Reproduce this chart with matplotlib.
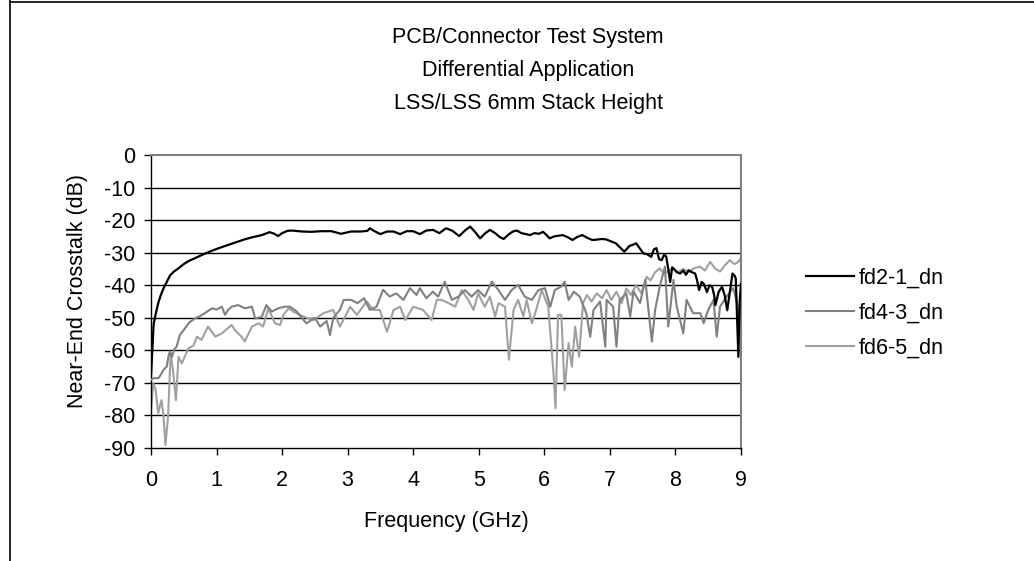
import matplotlib
matplotlib.use("Agg")
import matplotlib.pyplot as plt
from matplotlib.lines import Line2D

plt.rcParams['font.family'] = ['Liberation Sans', 'DejaVu Sans']
plt.rcParams['axes.unicode_minus'] = False

title_lines = ["PCB/Connector Test System", "Differential Application", "LSS/LSS 6mm Stack Height"]
x_label = "Frequency (GHz)"
y_label = "Near-End Crosstalk (dB)"
series_names = ["fd2-1_dn", "fd4-3_dn", "fd6-5_dn"]
x_ticks = [0, 1, 2, 3, 4, 5, 6, 7, 8, 9]
y_ticks = [0, -10, -20, -30, -40, -50, -60, -70, -80, -90]

# fd2-1_dn (black)
f21 = [0.0, 0.02, 0.04, 0.07, 0.11, 0.15, 0.19, 0.24, 0.29, 0.35, 0.42, 0.5, 0.58, 0.67,
       0.8, 0.93, 1.05, 1.18, 1.3, 1.43, 1.56, 1.69, 1.81, 1.88, 1.94, 2.0, 2.08, 2.15,
       2.3, 2.45, 2.6, 2.75, 2.9, 3.05, 3.2, 3.3, 3.34, 3.4, 3.5, 3.6, 3.7, 3.8, 3.9,
       4.0, 4.1, 4.2, 4.3, 4.4, 4.5, 4.6, 4.7, 4.8, 4.87, 4.95, 5.02, 5.1, 5.17, 5.25,
       5.32, 5.38, 5.45, 5.52, 5.58, 5.65, 5.72, 5.78, 5.85, 5.92, 5.98, 6.03, 6.08,
       6.15, 6.22, 6.28, 6.35, 6.43, 6.5, 6.58, 6.65, 6.73, 6.8, 6.87, 6.94, 7.0, 7.05,
       7.09, 7.15, 7.22, 7.27, 7.3, 7.35, 7.4, 7.45, 7.51, 7.57, 7.63, 7.67, 7.71, 7.75,
       7.79, 7.83, 7.86, 7.89, 7.92, 7.95, 7.97, 8.02, 8.07, 8.12, 8.16, 8.2, 8.25, 8.3,
       8.33, 8.36, 8.4, 8.43, 8.46, 8.48, 8.52, 8.56, 8.59, 8.61, 8.66, 8.71, 8.75, 8.79,
       8.83, 8.87, 8.9, 8.92, 8.94, 8.96, 8.98, 9.0]
db21 = [-68, -60, -52, -49, -45.5, -43, -41, -39, -37, -35.8, -34.8, -33.5, -32.5, -31.7,
        -30.5, -29.4, -28.5, -27.6, -26.8, -25.9, -25.2, -24.6, -23.7, -24.2, -24.9, -24.0, -23.3, -23.2,
        -23.5, -23.6, -23.4, -23.4, -24.2, -23.5, -23.5, -23.3, -22.5, -23.3, -24.3, -23.5, -23.5, -24.3, -23.4,
        -23.4, -24.3, -23.2, -23.0, -24.0, -22.5, -23.3, -24.9, -23.0, -22.0, -23.8, -25.6, -24.0, -23.0, -24.0,
        -25.2, -25.8, -24.5, -23.5, -23.2, -24.0, -24.3, -24.6, -24.0, -24.2, -23.6, -24.5, -25.6,
        -25.0, -24.8, -24.6, -25.2, -26.1, -25.2, -24.6, -25.4, -26.1, -26.0, -25.8, -25.9, -26.4, -26.8,
        -27.1, -28.3, -29.7, -28.6, -27.9, -27.6, -27.1, -28.5, -30.2, -30.5, -31.3, -29.0, -28.6, -32.0,
        -32.3, -30.5, -31.3, -35.0, -39.0, -34.5, -34.9, -36.0, -36.4, -35.5, -36.8, -35.4, -36.0, -36.4,
        -38.5, -41.5, -39.0, -39.5, -41.0, -42.1, -40.0, -40.5, -43.0, -46.1, -42.0, -40.5, -43.0, -47.7,
        -42.0, -36.4, -37.0, -37.9, -50.0, -62.0, -45.0, -39.5]

# fd4-3_dn (dark gray)
f43 = [0.0, 0.05, 0.11, 0.15, 0.19, 0.24, 0.27, 0.29, 0.32, 0.36, 0.39, 0.44, 0.52, 0.58,
       0.67, 0.75, 0.82, 0.93, 1.0, 1.08, 1.13, 1.18, 1.23, 1.33, 1.43, 1.54, 1.59, 1.69,
       1.76, 1.84, 1.94, 2.04, 2.12, 2.22, 2.37, 2.5, 2.58, 2.68, 2.73, 2.78, 2.88, 2.94,
       3.05, 3.15, 3.25, 3.34, 3.44, 3.54, 3.64, 3.74, 3.85, 3.95, 4.05, 4.1, 4.2, 4.3,
       4.38, 4.48, 4.59, 4.69, 4.79, 4.89, 4.99, 5.09, 5.2, 5.3, 5.4, 5.5, 5.6, 5.7, 5.81,
       5.91, 6.01, 6.09, 6.16, 6.26, 6.31, 6.37, 6.45, 6.54, 6.64, 6.7, 6.75, 6.85, 6.93,
       6.95, 7.05, 7.1, 7.15, 7.25, 7.31, 7.36, 7.46, 7.54, 7.64, 7.69, 7.76, 7.84, 7.89,
       7.97, 8.02, 8.12, 8.17, 8.27, 8.38, 8.43, 8.5, 8.58, 8.63, 8.68, 8.78, 8.88, 8.93,
       8.98, 9.0]
db43 = [-69, -68.5, -68.6, -67.5, -66.0, -65.0, -61.5, -60.4, -62.0, -59.5, -58.9, -55.3, -53.2, -51.5,
        -50.2, -49.5, -48.6, -47.1, -47.5, -46.6, -49.1, -47.5, -46.6, -46.1, -47.1, -46.6, -50.2, -49.7,
        -46.1, -48.1, -47.1, -46.6, -46.6, -48.0, -51.7, -50.0, -52.7, -51.0, -55.3, -50.0, -47.6, -44.5,
        -44.5, -45.5, -44.0, -47.6, -46.6, -41.4, -43.5, -42.5, -44.5, -40.9, -43.0, -40.9, -44.0, -42.0,
        -43.5, -38.9, -44.5, -43.5, -41.5, -43.5, -41.5, -43.5, -38.9, -41.5, -44.5, -41.5, -39.9, -43.5, -44.5,
        -41.5, -40.9, -46.6, -41.5, -40.4, -38.9, -44.5, -42.0, -43.5, -48.6, -55.8, -47.6, -45.0, -58.9,
        -44.5, -46.6, -58.9, -44.5, -42.5, -49.6, -41.9, -45.5, -38.4, -57.3, -47.6, -40.4, -34.3, -52.7,
        -38.4, -46.6, -54.8, -44.5, -48.6, -48.6, -51.7, -47.6, -44.5, -55.8, -46.6, -43.5, -40.9, -44.5,
        -49.6, -47.0]

# fd6-5_dn (light gray)
f65 = [0.0, 0.035, 0.07, 0.11, 0.16, 0.19, 0.22, 0.26, 0.3, 0.34, 0.38, 0.42, 0.47, 0.57,
       0.65, 0.7, 0.77, 0.87, 0.98, 1.08, 1.23, 1.28, 1.38, 1.43, 1.54, 1.64, 1.71, 1.79,
       1.89, 1.97, 2.02, 2.1, 2.17, 2.32, 2.48, 2.63, 2.78, 2.88, 3.04, 3.14, 3.29, 3.39,
       3.49, 3.6, 3.7, 3.8, 3.88, 4.0, 4.15, 4.28, 4.36, 4.43, 4.54, 4.64, 4.74, 4.84,
       4.92, 4.99, 5.09, 5.17, 5.25, 5.3, 5.4, 5.46, 5.53, 5.6, 5.68, 5.73, 5.81, 5.86,
       5.96, 6.06, 6.14, 6.17, 6.21, 6.26, 6.31, 6.37, 6.42, 6.47, 6.53, 6.59, 6.65, 6.72,
       6.8, 6.88, 6.95, 7.02, 7.1, 7.18, 7.25, 7.32, 7.4, 7.48, 7.56, 7.62, 7.69, 7.76,
       7.83, 7.9, 7.97, 8.04, 8.12, 8.2, 8.28, 8.38, 8.45, 8.53, 8.6, 8.68, 8.75, 8.83,
       8.9, 8.95, 9.0]
db65 = [-78.3, -70.1, -72.0, -79.3, -75.3, -80.0, -89.1, -80.4, -60.9, -67.0, -75.3, -62.0, -64.0, -59.4,
        -58.5, -55.8, -56.8, -52.7, -55.8, -54.8, -52.2, -53.8, -55.8, -57.3, -52.7, -51.7, -52.7, -47.1,
        -51.7, -52.2, -49.1, -47.1, -48.1, -49.6, -50.7, -48.6, -47.6, -52.7, -46.6, -49.1, -45.0, -47.6,
        -47.6, -54.3, -47.6, -46.6, -50.7, -46.6, -47.6, -50.7, -44.5, -44.5, -45.5, -46.6, -41.5, -44.5,
        -47.6, -42.5, -46.6, -43.5, -49.6, -45.5, -46.6, -62.9, -47.6, -44.5, -49.6, -44.5, -51.7, -48.6,
        -41.5, -46.6, -67.1, -77.8, -49.1, -49.1, -72.2, -57.8, -65.0, -52.7, -62.0, -45.5, -43.0, -45.0,
        -42.5, -44.0, -41.5, -44.5, -42.0, -45.5, -41.0, -43.0, -40.0, -42.5, -37.4, -38.5, -36.0, -34.8,
        -36.5, -35.5, -34.8, -36.0, -35.0, -36.0, -34.8, -34.3, -35.5, -32.8, -34.8, -35.8, -34.0, -32.3,
        -33.5, -33.0, -31.7]

colors = ["#000000", "#808080", "#a0a0a0"]
fs = 15.5

W, H = 1034, 561
fig = plt.figure(figsize=(W / 100, H / 100), dpi=100)
ax = fig.add_axes([151 / W, 1 - 448 / H, 590 / W, 293 / H])

ax.plot(f21, db21, color=colors[0], lw=1.6, label=series_names[0], zorder=4)
ax.plot(f43, db43, color=colors[1], lw=1.5, label=series_names[1], zorder=3)
ax.plot(f65, db65, color=colors[2], lw=1.5, label=series_names[2], zorder=2)

ax.set_xlim(0, 9)
ax.set_ylim(-90, 0)
ax.set_xticks(x_ticks)
ax.set_yticks(y_ticks)
ax.set_xticklabels([str(v) for v in x_ticks])
ax.set_yticklabels([str(v) for v in y_ticks])
ax.tick_params(axis='both', direction='out', length=5, width=1, labelsize=fs, colors='black')
ax.tick_params(axis='x', pad=10.5)
ax.tick_params(axis='y', pad=6)

for v in y_ticks[1:-1]:
    ax.axhline(v, color='black', lw=1, zorder=1)

for side in ['top', 'right']:
    ax.spines[side].set_color('#808080')
    ax.spines[side].set_linewidth(1.5)
for side in ['left', 'bottom']:
    ax.spines[side].set_color('black')
    ax.spines[side].set_linewidth(1)

for i, line in enumerate(title_lines):
    fig.text(528 / W, 1 - (38 + 32.5 * i) / H, line, ha='center', va='center', fontsize=fs)

fig.text(446 / W, 1 - 521 / H, x_label, ha='center', va='center', fontsize=fs)
fig.text(78 / W, 1 - 291 / H, y_label, ha='center', va='center', rotation=90, fontsize=fs)

fig.legend(loc='center left', bbox_to_anchor=(806 / W, 1 - 313 / H), frameon=False,
           fontsize=fs, handlelength=2.25, handletextpad=0.2, labelspacing=0.66,
           borderpad=0, borderaxespad=0)

# outer chart frame (left and top edges visible)
fig.add_artist(Line2D([9.5 / W, 9.5 / W], [0, 1], color='black', lw=1.2))
fig.add_artist(Line2D([9.5 / W, 1], [1 - 1.5 / H, 1 - 1.5 / H], color='black', lw=1.2))

fig.savefig("out.png", dpi=100)
